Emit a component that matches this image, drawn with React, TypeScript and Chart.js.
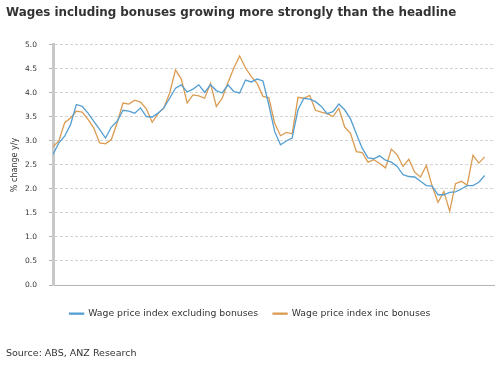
import React, { useEffect, useRef } from 'react';
import { Chart, registerables } from 'chart.js';

Chart.register(...registerables);

const TITLE = 'Wages including bonuses growing more strongly than the headline';
const SOURCE = 'Source: ABS, ANZ Research';
const Y_TITLE = '% change y/y';
const SERIES_NAMES = ['Wage price index excluding bonuses', 'Wage price index inc bonuses'];

// x tick labels (years 2000..2018)
const yearLabels = ['00', '01', '02', '03', '04', '05', '06', '07', '08', '09', '10', '11', '12', '13', '14', '15', '16', '17', '18'];

// Quarterly y/y growth, 2000 Q1 .. 2018 Q3
const wpiExBonuses = [
  2.72, 2.96, 3.10, 3.34,
  3.76, 3.72, 3.58, 3.41,
  3.24, 3.06, 3.29, 3.41,
  3.64, 3.62, 3.58, 3.69,
  3.51, 3.50, 3.58, 3.69,
  3.89, 4.10, 4.17, 4.02,
  4.08, 4.17, 4.01, 4.17,
  4.05, 4.00, 4.17, 4.03,
  4.00, 4.27, 4.23, 4.29,
  4.25, 3.75, 3.20, 2.92,
  3.00, 3.06, 3.65, 3.89,
  3.87, 3.82, 3.72, 3.57,
  3.61, 3.77, 3.65, 3.46,
  3.15, 2.85, 2.65, 2.63,
  2.69, 2.60, 2.56, 2.47,
  2.30, 2.26, 2.25, 2.16,
  2.07, 2.06, 1.88, 1.88,
  1.93, 1.94, 2.00, 2.07,
  2.07, 2.14, 2.28,
];

const wpiIncBonuses = [
  2.88, 3.00, 3.38, 3.48,
  3.62, 3.60, 3.45, 3.27,
  2.96, 2.94, 3.03, 3.38,
  3.79, 3.77, 3.85, 3.81,
  3.67, 3.39, 3.57, 3.69,
  4.00, 4.48, 4.29, 3.79,
  3.96, 3.94, 3.89, 4.20,
  3.72, 3.89, 4.22, 4.52,
  4.77, 4.52, 4.34, 4.20,
  3.93, 3.90, 3.37, 3.11,
  3.18, 3.15, 3.91, 3.89,
  3.95, 3.64, 3.60, 3.57,
  3.51, 3.68, 3.29, 3.16,
  2.78, 2.76, 2.56, 2.61,
  2.53, 2.44, 2.83, 2.71,
  2.47, 2.62, 2.35, 2.25,
  2.49, 2.06, 1.72, 1.95,
  1.54, 2.11, 2.16, 2.08,
  2.70, 2.54, 2.67,
];

// position of each quarter, in years since 2000
const quarterPos = wpiExBonuses.map((_, i) => i / 4);

const BLUE = '#559fd2';
const ORANGE = '#da9b52';
const TEXT = '#333333';

export default function App() {
  const ref = useRef<HTMLCanvasElement | null>(null);

  useEffect(() => {
    if (!ref.current) return;
    const chart = new Chart(ref.current, {
      type: 'line',
      data: {
        datasets: [
          {
            label: SERIES_NAMES[0],
            data: quarterPos.map((x, i) => ({ x, y: wpiExBonuses[i] })),
            borderColor: BLUE,
            backgroundColor: BLUE,
            borderWidth: 1.3,
            pointRadius: 0,
            tension: 0,
          },
          {
            label: SERIES_NAMES[1],
            data: quarterPos.map((x, i) => ({ x, y: wpiIncBonuses[i] })),
            borderColor: ORANGE,
            backgroundColor: ORANGE,
            borderWidth: 1.3,
            pointRadius: 0,
            tension: 0,
          },
        ],
      },
      options: {
        animation: false,
        responsive: false,
        maintainAspectRatio: false,
        layout: { padding: { left: 6, right: 2, top: 0, bottom: 0 } },
        plugins: {
          tooltip: { enabled: false },
          title: {
            display: true,
            text: TITLE,
            align: 'start',
            color: TEXT,
            font: { family: 'DejaVu Sans', size: 11.9, weight: 'bold' },
            padding: { top: 5.3, bottom: 25.4 },
          },
          subtitle: {
            display: true,
            text: SOURCE,
            position: 'bottom',
            align: 'start',
            color: TEXT,
            font: { family: 'DejaVu Sans', size: 9.5, weight: 'normal' },
            padding: { top: 20, bottom: 10.3 },
          },
          legend: {
            position: 'bottom',
            labels: {
              color: TEXT,
              font: { family: 'DejaVu Sans', size: 9.3 },
              boxWidth: 14,
              boxHeight: 1,
              padding: 15,
            },
          },
        },
        scales: {
          x: {
            type: 'linear',
            min: 0,
            max: 18.9,
            afterFit: (s: any) => { s.height = 9; },
            afterBuildTicks: (s: any) => { s.ticks = yearLabels.map((_, i) => ({ value: i })); },
            ticks: {
              autoSkip: false,
              maxRotation: 0,
              padding: 8,
              color: TEXT,
              font: { family: 'DejaVu Sans', size: 7.5 },
              callback: (v: any) => yearLabels[v] ?? '',
            },
            grid: { display: false },
            border: { display: true, color: '#b4b4b4', width: 1 },
          },
          y: {
            min: 0,
            max: 5,
            afterFit: (s: any) => { s.width = 47; },
            ticks: {
              stepSize: 0.5,
              padding: 12,
              color: TEXT,
              font: { family: 'DejaVu Sans', size: 7.5 },
              callback: (v: any) => Number(v).toFixed(1),
            },
            grid: {
              color: '#d4d4d4',
              lineWidth: 1,
              tickLength: 4,
              tickColor: '#b4b4b4',
              tickWidth: 1,
            },
            border: { display: true, color: '#c8c8c8', width: 3, dash: [3, 2] },
            title: {
              display: true,
              text: Y_TITLE,
              color: TEXT,
              font: { family: 'DejaVu Sans', size: 8 },
              padding: { top: 4, bottom: 0 },
            },
          },
        },
      },
    } as any);
    return () => chart.destroy();
  }, []);

  return (
    <div style={{ position: 'fixed', left: 0, top: 0, width: 496, height: 370, background: '#fff' }}>
      <canvas ref={ref} width={496} height={370} style={{ width: 496, height: 370 }} />
    </div>
  );
}
